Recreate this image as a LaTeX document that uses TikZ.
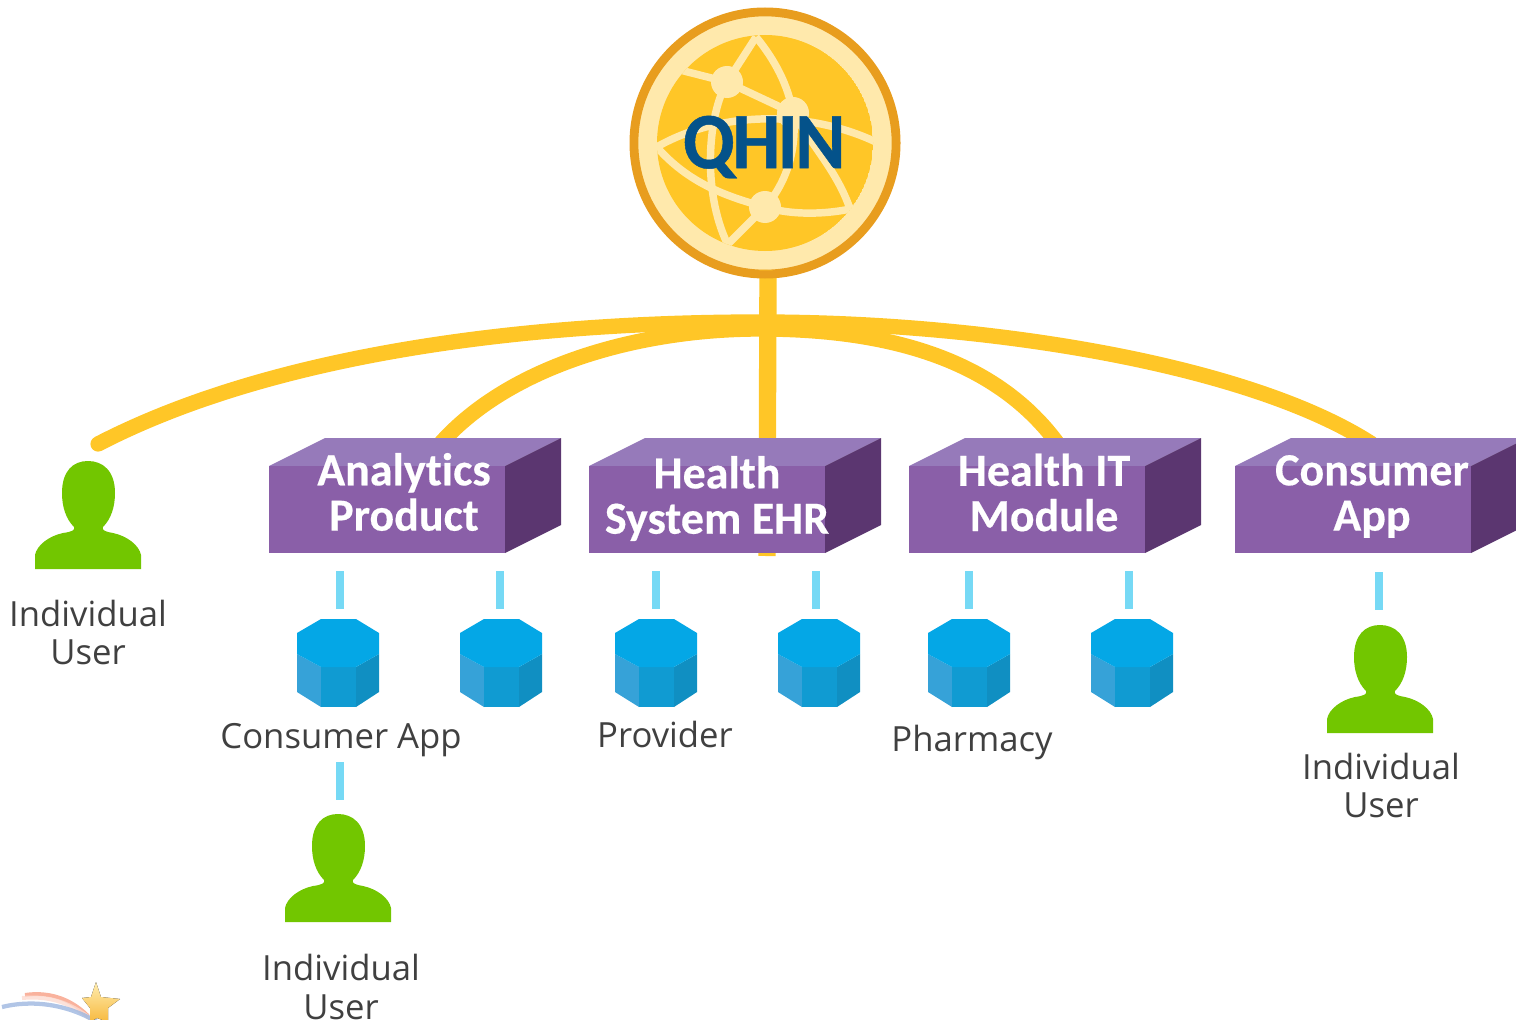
\documentclass[tikz,border=0pt]{standalone}
\usepackage{fontspec}
\setmainfont{Open Sans}
\newfontfamily\boxfont[Ligatures=NoCommon,BoldFeatures={FakeBold=0.35}]{Carlito}
\newfontfamily\qhinfont[Ligatures=NoCommon,LetterSpace=-3.5,BoldFeatures={FakeBold=0.6}]{Carlito}
\usetikzlibrary{calc}
\definecolor{ringc}{HTML}{E89D1E}
\definecolor{palec}{HTML}{FFE9AC}
\definecolor{goldc}{HTML}{FFC627}
\definecolor{purpf}{HTML}{8A5FA8}
\definecolor{purpt}{HTML}{967ABA}
\definecolor{purpr}{HTML}{5B3670}
\definecolor{cyant}{HTML}{04A7E6}
\definecolor{cyanl}{HTML}{36A2D8}
\definecolor{cyanm}{HTML}{109BD2}
\definecolor{cyanr}{HTML}{108FC2}
\definecolor{dashc}{HTML}{76D9F5}
\definecolor{greenc}{HTML}{72C600}
\definecolor{textc}{HTML}{404040}
\definecolor{qhinc}{HTML}{04528A}
\definecolor{logored}{HTML}{F8A58C}
\definecolor{logoblue}{HTML}{9DB6E0}
\definecolor{startop}{HTML}{FFEDB0}
\definecolor{starbot}{HTML}{F7B93F}
\tikzset{
  x=0.75pt,y=-0.75pt,
  trunk/.style={draw=goldc,line width=13pt},
  arcline/.style={draw=goldc,line width=11.5pt},
  feeder/.style={draw=dashc,line width=6pt},
  netline/.style={draw=palec,line width=5.6pt},
  netnode/.style={circle,fill=palec,inner sep=0pt,minimum size=24pt},
  boxlabel/.style={font=\boxfont\bfseries\fontsize{34.5}{34}\selectfont,text=white,align=center,inner sep=0pt},
  caption/.style={font=\fontsize{26}{29.2}\selectfont,text=textc,align=center,inner sep=0pt},
  frontface/.style={rectangle,fill=purpf,minimum width=177pt,minimum height=65.25pt,inner sep=0pt,outer sep=0pt},
}
% #1 name, #2 left x of front face, #3 top y of front face
\newcommand\purplebox[3]{%
  \fill[purpt] (#2,#3) -- ++(56,-28) -- ++(236,0) -- ++(-56,28) -- cycle;
  \fill[purpr] (#2+236,#3) -- ++(56,-28) -- ++(0,87) -- ++(-56,28) -- cycle;
  \node[frontface,anchor=north west] (#1) at (#2,#3) {};
}
% #1 name, #2 left x
\newcommand\octcyl[2]{%
  \begin{scope}[shift={(#2,619)}]
    \fill[cyanl] (0,35) -- (24,48) -- (24,88) -- (0,73) -- cycle;
    \fill[cyanm] (24,48) -- (59,48) -- (59,88) -- (24,88) -- cycle;
    \fill[cyanr] (59,48) -- (82,35) -- (82,73) -- (59,88) -- cycle;
    \fill[cyant] (0,14) -- (24,0) -- (59,0) -- (82,14) -- (82,35) -- (59,48) -- (24,48) -- (0,35) -- cycle;
    \coordinate (#1) at (41,44);
  \end{scope}
}
% #1 name, #2 left x, #3 top y
\newcommand\person[3]{%
  \begin{scope}[shift={(#2,#3)}]
    \fill[greenc] (0,108) -- (0,94)
      .. controls (2,84) and (14,75) .. (28,72)
      .. controls (36,71) and (41,69) .. (39,66)
      .. controls (31,58) and (27,46) .. (27,32)
      .. controls (27,10) and (38,0) .. (53,0)
      .. controls (68,0) and (80,10) .. (80,32)
      .. controls (80,46) and (76,58) .. (68,66)
      .. controls (66,69) and (71,71) .. (78,72)
      .. controls (92,75) and (104,84) .. (106,94)
      -- (106,108) -- cycle;
    \coordinate (#1) at (53,54);
  \end{scope}
}
\begin{document}
\begin{tikzpicture}
\useasboundingbox (0,0) rectangle (1516,1020);

% ---- globe
\node[circle,draw=ringc,fill=palec,line width=6pt,minimum size=196pt,inner sep=0pt] (hub) at (765,143) {};
\begin{scope}
  \clip (765,143) circle[radius=108];
  \fill[goldc] (765,143) circle[radius=108];
  \coordinate (na) at (727,82);
  \coordinate (nb) at (793,113);
  \coordinate (nc) at (765,207);
  \draw[netline] (680,70) -- (na) -- (nb);
  \draw[netline] (756,37) -- (na) .. controls (708,115) and (702,190) .. (727,243);
  \draw[netline] (756,37) .. controls (775,60) and (788,85) .. (nb)
     .. controls (815,150) and (840,175) .. (852,215);
  \draw[netline] (nb) .. controls (798,150) and (785,185) .. (nc);
  \draw[netline] (655,148) .. controls (720,110) and (810,110) .. (878,143);
  \draw[netline] (655,145) .. controls (685,180) and (720,195) .. (nc);
  \draw[netline] (nc) .. controls (790,215) and (825,215) .. (855,208);
  \draw[netline] (nc) -- (727,245);
  \node[netnode] (globea) at (na) {};
  \node[netnode] (globeb) at (nb) {};
  \node[netnode] (globec) at (nc) {};
\end{scope}
\node[font=\qhinfont\bfseries\fontsize{60}{60}\selectfont,text=qhinc,inner sep=0pt,xscale=0.95] (qhinlabel) at (764,147) {QHIN};

% ---- named ends of the yellow links
\coordinate (leftend) at (98,444);
\coordinate (apexa) at (760,322);
\coordinate (rightend) at (1372,444);
\coordinate (innerl) at (440,444);
\coordinate (apexb) at (760,329);
\coordinate (innerr) at (1058,444);
\coordinate (trunktop) at (768,270);
\coordinate (trunkend) at (767,556);

\draw[trunk] (trunktop) -- (trunkend);
\draw[arcline] (leftend) .. controls (270,355) and (520,322) .. (apexa)
   .. controls (990,322) and (1250,365) .. (rightend);
\draw[arcline] (innerl) .. controls (510,365) and (640,329) .. (apexb)
   .. controls (900,329) and (1000,365) .. (innerr);
\fill[goldc] (leftend) circle[radius=7.6];

% ---- ring edge over trunk top
\draw[ringc,line width=6pt] (765,143) circle[radius=131.5];

% ---- purple boxes
\purplebox{analytics}{269}{466}
\purplebox{ehr}{589}{466}
\purplebox{module}{909}{466}
\purplebox{capp}{1235}{466}
\node[boxlabel] (analyticslabel) at (404,492) {Analytics\\Product};
\node[boxlabel] (ehrlabel) at (717,498.5) {Health\\System EHR};
\node[boxlabel] (modulelabel) at (1044,492.5) {Health IT\\Module};
\node[boxlabel] (capplabel) at (1372,496.5) {Consumer\\App};

% ---- endpoints
\octcyl{cyla}{297}
\octcyl{cylb}{460}
\octcyl{cylc}{615}
\octcyl{cyld}{778}
\octcyl{cyle}{928}
\octcyl{cylf}{1091}
\person{usera}{35}{461}
\person{userb}{1327}{625}
\person{userc}{285}{814}

% ---- cyan feeders
\coordinate (fa1) at (340,571); \coordinate (fa2) at (340,609);
\coordinate (fb1) at (500,571); \coordinate (fb2) at (500,609);
\coordinate (fc1) at (656,571); \coordinate (fc2) at (656,609);
\coordinate (fd1) at (816,571); \coordinate (fd2) at (816,609);
\coordinate (fe1) at (969,571); \coordinate (fe2) at (969,609);
\coordinate (ff1) at (1129,571); \coordinate (ff2) at (1129,609);
\coordinate (fg1) at (1379,572); \coordinate (fg2) at (1379,610);
\coordinate (fh1) at (340,762); \coordinate (fh2) at (340,800);
\foreach \s/\e in {fa1/fa2,fb1/fb2,fc1/fc2,fd1/fd2,fe1/fe2,ff1/ff2,fg1/fg2,fh1/fh2}
  \draw[feeder] (\s) -- (\e);

% ---- captions
\node[caption] (capa) at (88,632.5) {Individual\\User};
\node[caption] (capb) at (1381,785.5) {Individual\\User};
\node[caption] (capc) at (341,987) {Individual\\User};
\node[caption] (capd) at (341,740) {Consumer App};
\node[caption] (cape) at (665,734) {Provider};
\node[caption] (capf) at (972,742) {Pharmacy};

% ---- logo, bottom left
\begin{scope}
  \clip (0,960) rectangle (140,1020);
  \draw[draw=logored,line width=3pt,opacity=.85] (25,995) .. controls (45,992) and (68,996) .. (88,1016);
  \draw[draw=logored!40,line width=3pt,opacity=.8] (22,998) .. controls (45,996) and (68,1000) .. (92,1020);
  \draw[draw=logoblue,line width=3.2pt,opacity=.8] (2,1007) .. controls (30,1000) and (65,1003) .. (97,1022);
  \fill[top color=startop,bottom color=starbot]
    (96,982) -- (101,997) -- (120,999) -- (108,1008) -- (108,1022) -- (97,1018) -- (90,1022) -- (90,1008) -- (82,998) -- (91,997) -- cycle;
\end{scope}
\end{tikzpicture}
\end{document}
